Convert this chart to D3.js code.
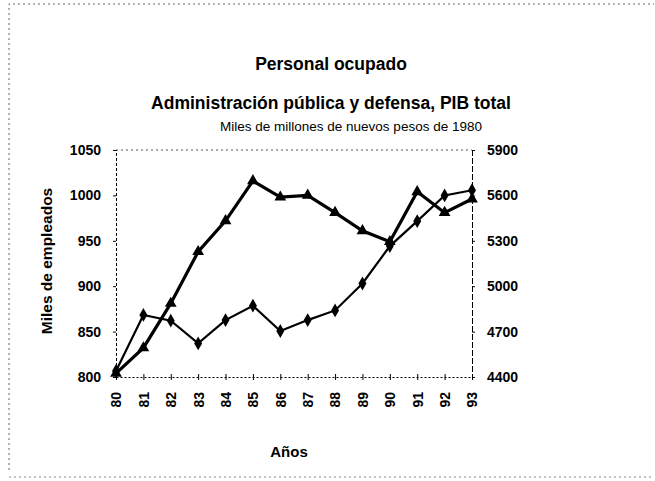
<!DOCTYPE html>
<html>
<head>
<meta charset="utf-8">
<script src="https://cdn.jsdelivr.net/npm/d3@7"></script>
<style>
  body { margin: 0; background: #fff; }
  svg text { font-family: "Liberation Sans", Arial, sans-serif; fill: #000; }
</style>
</head>
<body>
<div id="chart"></div>
<script>
var years = ["80","81","82","83","84","85","86","87","88","89","90","91","92","93"];
// Personal ocupado (miles de empleados) - eje izquierdo, triangulos
var empleados = [804, 832, 881, 938, 972, 1016, 998, 1000, 981, 961, 949, 1004, 981, 996];
// PIB total (miles de millones de pesos de 1980) - eje derecho, rombos
var pib = [4440, 4810, 4772, 4622, 4776, 4871, 4704, 4776, 4840, 5018, 5265, 5430, 5600, 5634];
var leftTicks = [800, 850, 900, 950, 1000, 1050];
var rightTicks = [4400, 4700, 5000, 5300, 5600, 5900];

var W = 655, H = 481;
var margin = {top: 150, right: 183, bottom: 104, left: 116},
    width = W - margin.left - margin.right,
    height = H - margin.top - margin.bottom;

var svg = d3.select("#chart").append("svg")
    .attr("width", W)
    .attr("height", H);

// outer dotted frame
svg.append("path")
    .attr("d", "M9,470 L9,4 L654,4")
    .attr("fill", "none")
    .attr("stroke", "#666")
    .attr("stroke-width", 1)
    .attr("stroke-dasharray", "2,3");
svg.append("line")
    .attr("x1", 9).attr("x2", 654).attr("y1", 477).attr("y2", 477)
    .attr("stroke", "#888").attr("stroke-dasharray", "2,3");

// titles
svg.append("text").attr("x", 331).attr("y", 70)
    .attr("text-anchor", "middle").style("font-size", "17.5px").style("font-weight", "bold")
    .text("Personal ocupado");
svg.append("text").attr("x", 331).attr("y", 109)
    .attr("text-anchor", "middle").style("font-size", "17.5px").style("font-weight", "bold")
    .text("Administración pública y defensa, PIB total");
svg.append("text").attr("x", 351).attr("y", 131)
    .attr("text-anchor", "middle").style("font-size", "13.5px")
    .text("Miles de millones de nuevos pesos de 1980");

var g = svg.append("g")
    .attr("transform", "translate(" + margin.left + "," + margin.top + ")");

var x = d3.scalePoint().domain(years).range([0, width]);
var yL = d3.scaleLinear().domain([800, 1050]).range([height, 0]);
var yR = d3.scaleLinear().domain([4400, 5900]).range([height, 0]);

// top dotted border
g.append("line")
    .attr("x1", 0).attr("x2", width).attr("y1", 0).attr("y2", 0)
    .attr("stroke", "#555").attr("stroke-dasharray", "2,3");

// left axis
var axL = g.append("g")
    .call(d3.axisLeft(yL).tickValues(leftTicks).tickFormat(d3.format("d")).tickSize(3).tickPadding(12));
axL.select(".domain").attr("stroke-dasharray", "3,2");
axL.selectAll("text").style("font-size", "14px").style("font-weight", "bold");

// right axis
var axR = g.append("g")
    .attr("transform", "translate(" + width + ",0)")
    .call(d3.axisRight(yR).tickValues(rightTicks).tickFormat(d3.format("d")).tickSize(3).tickPadding(12));
axR.select(".domain").attr("stroke-dasharray", "6,2");
axR.selectAll("text").style("font-size", "14px").style("font-weight", "bold");

// bottom axis
var axB = g.append("g")
    .attr("transform", "translate(0," + height + ")")
    .call(d3.axisBottom(x).tickSizeInner(4).tickSizeOuter(0));
axB.select(".domain").attr("stroke-dasharray", "2,2");
axB.selectAll(".tick line").attr("y1", -3).attr("y2", 3);
axB.selectAll("text")
    .style("font-size", "14px").style("font-weight", "bold")
    .attr("text-anchor", "end")
    .attr("dy", "0.35em")
    .attr("x", -15)
    .attr("y", 0)
    .attr("transform", "rotate(-90)");

// axis titles
svg.append("text")
    .attr("transform", "translate(52,261) rotate(-90)")
    .attr("text-anchor", "middle").style("font-size", "15.5px").style("font-weight", "bold")
    .text("Miles de empleados");
svg.append("text").attr("x", 289).attr("y", 457)
    .attr("text-anchor", "middle").style("font-size", "15px").style("font-weight", "bold")
    .text("Años");

// lines
var lineL = d3.line()
    .x(function(d, i) { return x(years[i]); })
    .y(function(d) { return yL(d); });
var lineR = d3.line()
    .x(function(d, i) { return x(years[i]); })
    .y(function(d) { return yR(d); });

g.append("path").datum(pib)
    .attr("fill", "none").attr("stroke", "#000").attr("stroke-width", 2.2)
    .attr("d", lineR);
g.append("path").datum(empleados)
    .attr("fill", "none").attr("stroke", "#000").attr("stroke-width", 3.2)
    .attr("d", lineL);

// markers
g.selectAll(".rombo").data(pib).enter().append("path")
    .attr("class", "rombo")
    .attr("d", d3.symbol().type(d3.symbolDiamond).size(55))
    .attr("transform", function(d, i) { return "translate(" + x(years[i]) + "," + yR(d) + ")"; })
    .attr("fill", "#000");
g.selectAll(".tri").data(empleados).enter().append("path")
    .attr("class", "tri")
    .attr("d", d3.symbol().type(d3.symbolTriangle).size(60))
    .attr("transform", function(d, i) { return "translate(" + x(years[i]) + "," + yL(d) + ")"; })
    .attr("fill", "#000");
</script>
</body>
</html>
